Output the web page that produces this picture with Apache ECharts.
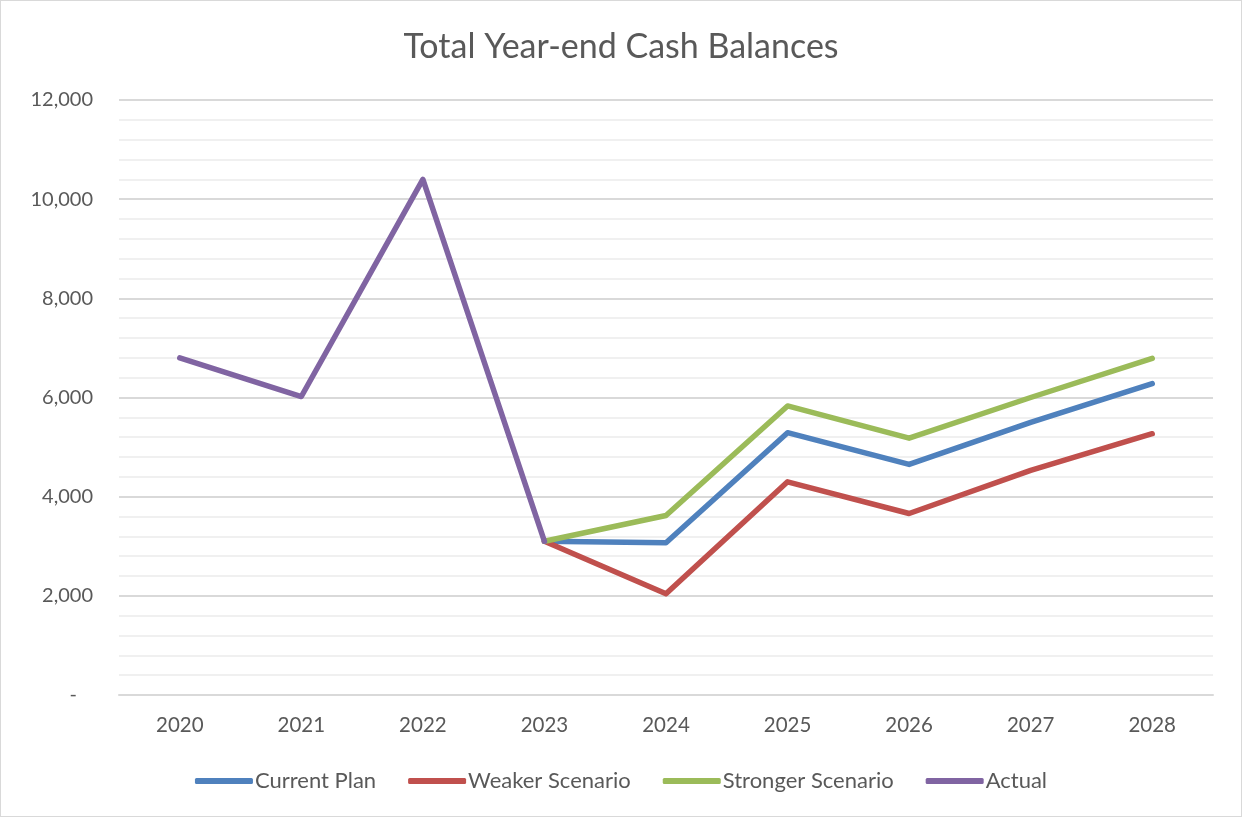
<!DOCTYPE html>
<html>
<head>
<meta charset="utf-8">
<title>Total Year-end Cash Balances</title>
<script src="https://cdn.jsdelivr.net/npm/echarts@6/dist/echarts.min.js"></script>
<style>
  html, body { margin: 0; padding: 0; background: #fff; }
  #chart { position: absolute; left: 0; top: 0; width: 1240px; height: 815px; border: 1px solid #d9d9d9; }
</style>
</head>
<body>
<div id="chart"></div>
<script>
// years on the x axis
const years = ["2020", "2021", "2022", "2023", "2024", "2025", "2026", "2027", "2028"];

// values (null = no point)
const currentPlan = [null, null, null, 3100, 3070, 5290, 4650, 5500, 6280];
const weakerScenario = [null, null, null, 3100, 2040, 4300, 3660, 4530, 5270];
const strongerScenario = [null, null, null, 3100, 3620, 5830, 5180, 6000, 6790];
const actual = [6800, 6020, 10400, 3100, null, null, null, null, null];

const seriesNames = ["Current Plan", "Weaker Scenario", "Stronger Scenario", "Actual"];
const seriesColors = ["#4f81bd", "#c0504d", "#9bbb59", "#8064a2"];
const seriesData = [currentPlan, weakerScenario, strongerScenario, actual];

const font = "Lato, 'Open Sans', sans-serif";
const chart = echarts.init(document.getElementById("chart"));

const series = seriesNames.map((name, i) => ({
  name,
  type: "line",
  data: seriesData[i],
  showSymbol: false,
  symbol: "none",
  lineStyle: { color: seriesColors[i], width: 5.5, cap: "round", join: "round" },
  itemStyle: { color: seriesColors[i] },
}));

chart.setOption({
  animation: false,
  title: {
    text: "Total Year-end Cash Balances",
    left: "center",
    top: 24,
    textStyle: { fontFamily: font, fontSize: 34, fontWeight: "normal", color: "#595959" },
  },
  grid: { left: 118, right: 28, top: 99, bottom: 121 },
  legend: {
    bottom: 19,
    left: "center",
    icon: "roundRect",
    itemWidth: 58,
    itemHeight: 6,
    itemGap: 32,
    textStyle: { fontFamily: font, fontSize: 22, color: "#595959", padding: [0, 0, 0, -3] },
    data: seriesNames,
  },
  xAxis: {
    type: "category",
    data: years,
    boundaryGap: true,
    axisLine: { show: true, lineStyle: { color: "#d9d9d9", width: 2 } },
    axisTick: { show: false },
    axisLabel: { fontFamily: font, fontSize: 20.5, color: "#595959", margin: 20 },
  },
  yAxis: {
    type: "value",
    min: 0,
    max: 12000,
    interval: 2000,
    axisLine: { show: false },
    axisTick: { show: false },
    axisLabel: {
      fontFamily: font,
      fontSize: 20,
      color: "#595959",
      margin: 26,
      formatter: (v) => (v === 0 ? "{dash|-}" : v.toLocaleString("en-US")),
      rich: { dash: { fontFamily: font, fontSize: 20, color: "#595959", padding: [0, 16, 0, 0] } },
    },
    splitLine: { show: true, lineStyle: { color: "#d9d9d9", width: 2 } },
    minorTick: { show: false, splitNumber: 5 },
    minorSplitLine: { show: true, lineStyle: { color: "#f0f0f0", width: 2 } },
  },
  series,
});
</script>
</body>
</html>
